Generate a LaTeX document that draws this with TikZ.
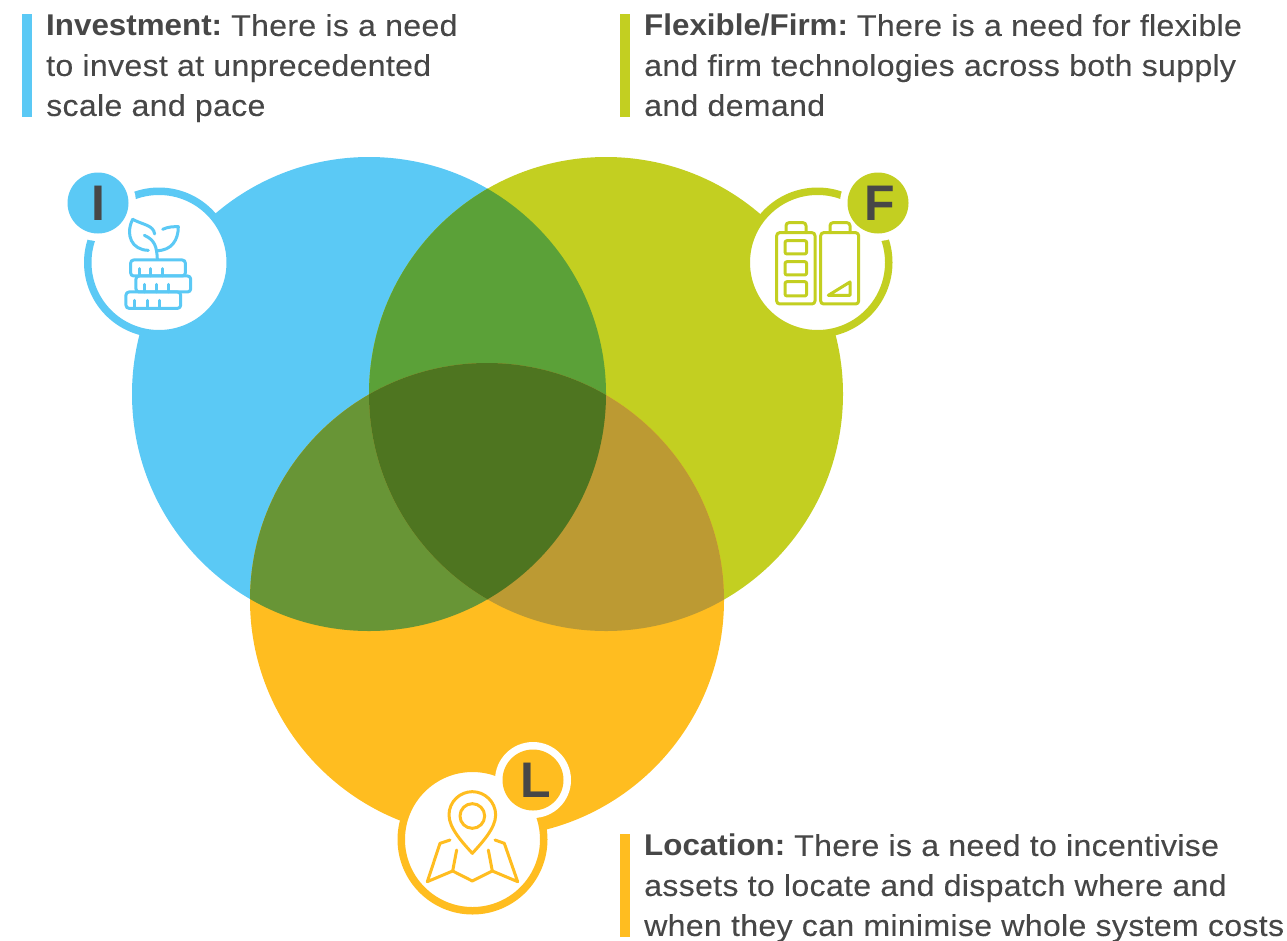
\documentclass[tikz,border=0pt]{standalone}
\usepackage{fontspec}
\setmainfont[FakeStretch=1.07,LetterSpace=1,FakeBold=0.12,BoldFont={Liberation Sans Bold},BoldFeatures={FakeStretch=1.045,LetterSpace=0,FakeBold=0}]{Liberation Sans}
\newfontfamily\badgefont{Liberation Sans}
\definecolor{cblue}{HTML}{5BC9F5}
\definecolor{cgreen}{HTML}{C3CF21}
\definecolor{cyel}{HTML}{FFBD20}
\definecolor{ovBG}{HTML}{5BA138}
\definecolor{ovBY}{HTML}{689536}
\definecolor{ovGY}{HTML}{BC9A33}
\definecolor{ovAll}{HTML}{4E7520}
\definecolor{ink}{HTML}{474747}
\tikzset{
  blurb/.style={anchor=north west,inner sep=0pt,align=left,text=ink,font=\fontsize{30}{40}\selectfont},
  letter/.style={circle,minimum size=61pt,inner sep=0pt,text=ink,font=\badgefont\fontsize{50}{50}\selectfont\bfseries},
  icon/.style={line width=3pt,line join=round,line cap=round,fill=none},
  ring/.style={line width=7.5pt,fill=white},
}
\newcommand{\circB}{(369,394) circle[radius=237]}
\newcommand{\circG}{(606,394) circle[radius=237]}
\newcommand{\circY}{(487,600) circle[radius=237]}
\begin{document}
\begin{tikzpicture}[x=1pt,y=-1pt]
\useasboundingbox (0,0) rectangle (1287,940);
% big circles
\fill[cblue] \circB;
\fill[cgreen] \circG;
\fill[cyel] \circY;
\begin{scope}\clip \circB; \fill[ovBG] \circG; \fill[ovBY] \circY; \end{scope}
\begin{scope}\clip \circG; \fill[ovGY] \circY; \end{scope}
\begin{scope}\clip \circB; \clip \circG; \fill[ovAll] \circY; \end{scope}
% badges: Investment
\draw[cblue,ring] (159,262.5) circle[radius=71.25];
\fill[white] (98,203) circle[radius=38];
\node[letter,fill=cblue] (I) at (98,203) {I};
% badges: Flexible
\draw[cgreen,ring] (817.5,262.5) circle[radius=71.25];
\fill[white] (878,203) circle[radius=38];
\node[letter,fill=cgreen] (F) at (878,203) {\kern3pt F};
% badges: Location
\draw[cyel,ring] (472.5,839.5) circle[radius=71.25];
\fill[white] (533,780) circle[radius=38];
\node[letter,fill=cyel] (L) at (533,780) {\kern5pt L};
% icon I
\begin{scope}[shift={(60,160)},x=0.3333pt,y=-0.3333pt,icon,draw=cblue]
\draw (218,178) .. controls (250,195) and (280,195) .. (284,222);
\draw (218,178) .. controls (195,225) and (215,270) .. (265,271);
\draw (308,208) .. controls (325,200) and (340,200) .. (355,200) .. controls (355,240) and (335,272) .. (290,272);
\draw (292,297) .. controls (290,260) and (285,240) .. (253,226);
\draw[rounded corners=3pt] (212,300) rectangle (376,348);
\draw[rounded corners=3pt] (228,348) -- (392,348) -- (392,396) -- (228,396) -- cycle;
\draw[rounded corners=3pt] (198,396) rectangle (362,445);
\foreach \x in {238,272,308} \draw (\x,348) -- (\x,326);
\foreach \x in {255,290,326} \draw (\x,396) -- (\x,373);
\foreach \x in {225,262,298} \draw (\x,445) -- (\x,421);
\end{scope}
% icon F
\begin{scope}[shift={(740,160)},x=0.3333pt,y=-0.3333pt,icon,draw=cgreen]
\draw[rounded corners=3pt] (110,218) rectangle (225,432);
\draw[rounded corners=3pt] (138,218) -- (138,188) -- (198,188) -- (198,218);
\draw[rounded corners=2pt] (135,242) rectangle (200,282);
\draw[rounded corners=2pt] (135,305) rectangle (200,345);
\draw[rounded corners=2pt] (135,365) rectangle (200,408);
\draw[rounded corners=3pt] (242,218) rectangle (356,432);
\draw[rounded corners=3pt] (270,218) -- (270,188) -- (330,188) -- (330,218);
\draw (265,406) -- (330,366) -- (330,406) -- cycle;
\end{scope}
% icon L
\begin{scope}[shift={(385,735)},x=0.3333pt,y=-0.3333pt,icon,draw=cyel]
\draw (262,243) circle[radius=37];
\draw (262,355) .. controls (235,325) and (192,280) .. (192,240) .. controls (192,200) and (225,170) .. (262,170) .. controls (299,170) and (332,200) .. (332,240) .. controls (332,280) and (289,325) .. (262,355) -- cycle;
\draw (195,315) -- (165,325) -- (127,440) -- (203,408) -- (262,438) -- (322,408) -- (398,440) -- (358,325) -- (330,315);
\draw (215,345) -- (203,408);
\draw (310,345) -- (322,408);
\end{scope}
% bars
\fill[cblue] (22,14) rectangle (32,117);
\fill[cgreen] (620,14) rectangle (630,117);
\fill[cyel] (620,834) rectangle (630,937);
% text
\node[blurb] (tI) at (46,14) {\textbf{Investment:}\hspace{9pt}There is a need\\to invest at unprecedented\\scale and pace};
\node[blurb] (tF) at (644,14) {\textbf{Flexible/Firm:}\hspace{9pt}There is a need for flexible\\and firm technologies across both supply\\and demand};
\node[blurb] (tL) at (644,834) {\textbf{Location:}\hspace{9pt}There is a need to incentivise\\assets to locate and dispatch where and\\when they can minimise whole system costs};
\end{tikzpicture}
\end{document}
